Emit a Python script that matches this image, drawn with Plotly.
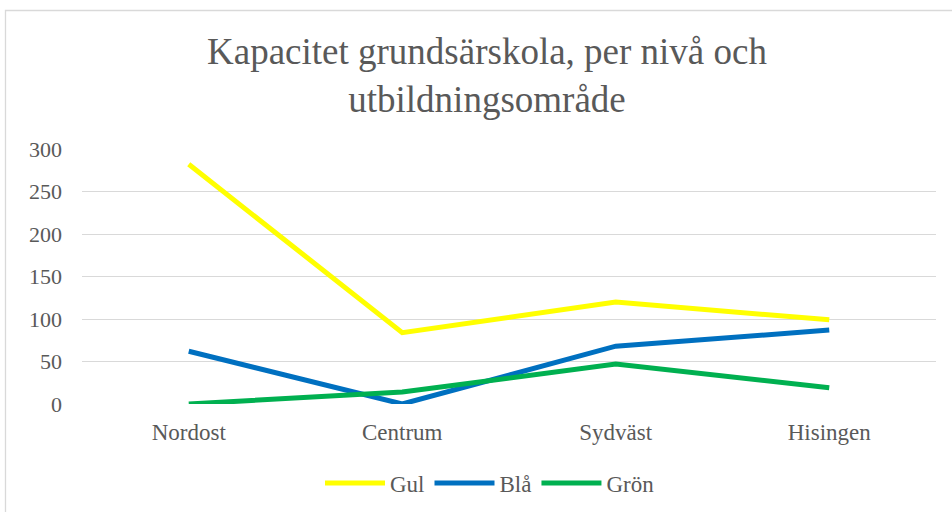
import plotly.graph_objects as go

categories = ["Nordost", "Centrum", "Sydväst", "Hisingen"]
gul = [282, 84, 120, 99]
bla = [62, 0, 68, 87]
gron = [0, 14, 47, 19]
series_names = ["Gul", "Blå", "Grön"]
series_colors = ["#FFFF00", "#0070C0", "#00B050"]
y_ticks = [0, 50, 100, 150, 200, 250, 300]

W, H = 952, 512
L, R, T, B = 82, 16, 149, 108
pw, ph = W - L - R, H - T - B

def px(xp):
    return (xp - L) / pw

def py(yp):
    return (H - B - yp) / ph

fig = go.Figure()
for name, vals, col in zip(series_names, [gul, bla, gron], series_colors):
    fig.add_trace(go.Scatter(
        x=categories, y=vals, name=name, mode="lines",
        line=dict(color=col, width=5), cliponaxis=False,
    ))

FF = "Liberation Serif"
fig.update_layout(
    width=W, height=H,
    margin=dict(l=L, r=R, t=T, b=B, autoexpand=False),
    plot_bgcolor="white", paper_bgcolor="white",
    font=dict(family=FF, color="#595959", size=22),
    title=dict(
        text="Kapacitet grundsärskola, per nivå och<br>utbildningsområde",
        x=px(487), xref="paper", xanchor="center",
        y=1 - 64 / H, yref="container", yanchor="middle",
        font=dict(size=37, color="#595959", family=FF),
    ),
    xaxis=dict(
        range=[-0.5, 3.5],
        showgrid=False, showline=False, zeroline=False,
        ticks="", tickfont=dict(size=23, family=FF), ticklabelstandoff=12,
    ),
    yaxis=dict(
        range=[0, 300], tickvals=y_ticks, showgrid=True,
        gridcolor="#D9D9D9", gridwidth=1.3, zeroline=False,
        showline=False, ticks="", tickfont=dict(size=22, family=FF),
        ticklabelstandoff=19,
    ),
    legend=dict(
        orientation="h", x=px(490), xanchor="center",
        y=py(483), yanchor="middle",
        font=dict(size=23, color="#595959", family=FF),
        itemwidth=60, tracegroupgap=0,
    ),
    shapes=[dict(
        type="rect", xref="paper", yref="paper",
        x0=px(5.5), x1=px(960), y0=py(520), y1=py(10.5),
        line=dict(color="#D9D9D9", width=1.3), fillcolor="rgba(0,0,0,0)",
        layer="below",
    )],
)

fig.write_html(
    "out.html",
    config={"displayModeBar": False},
    post_script="document.body.style.margin='0';document.body.style.overflow='hidden';",
)
